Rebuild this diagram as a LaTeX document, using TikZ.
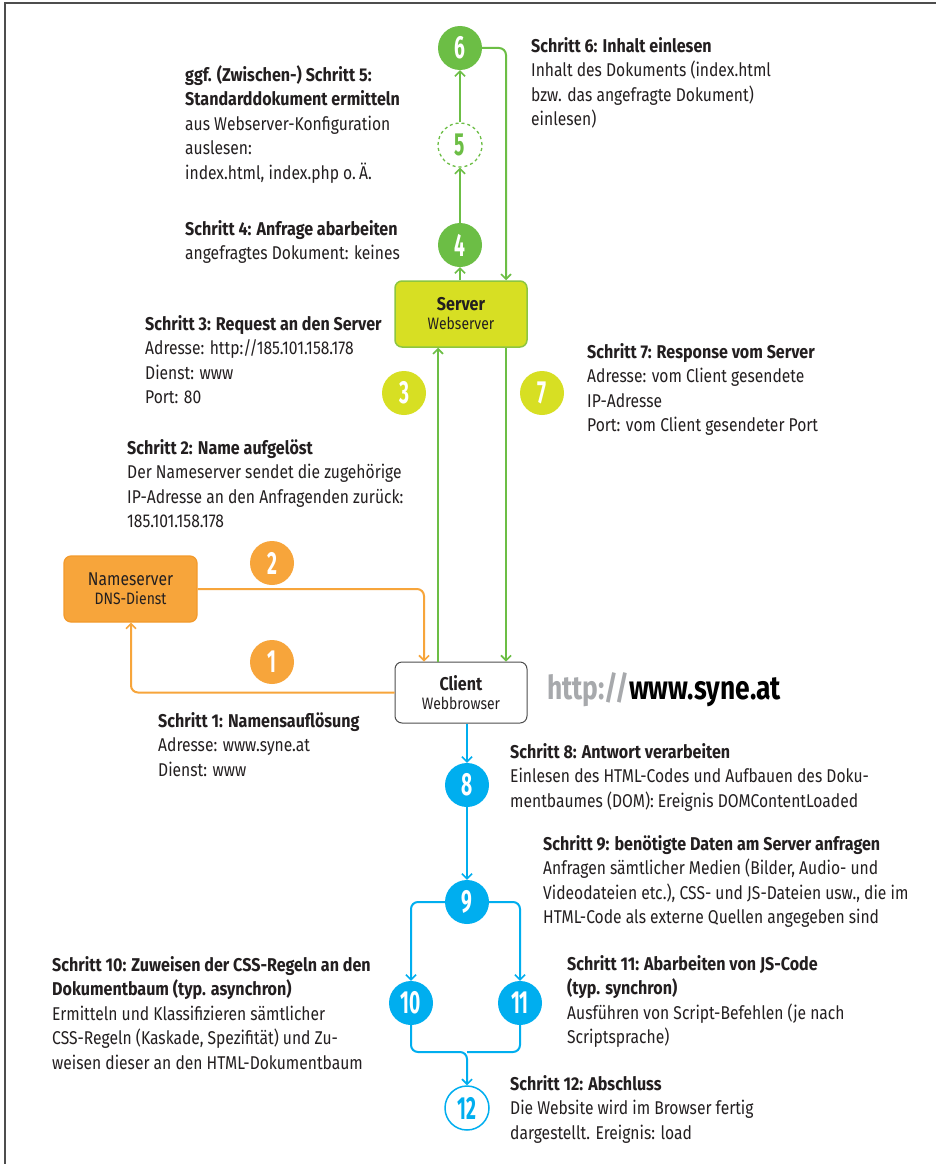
\documentclass[tikz,border=0pt]{standalone}
\usepackage{fontspec}
\setmainfont{Fira Sans}[FakeStretch=0.845, BoldFeatures={FakeStretch=0.87}]
\newfontfamily\numfont{Fira Sans}[FakeStretch=0.6]
\newfontfamily\logofont{Fira Sans}[FakeStretch=0.8]
\usetikzlibrary{arrows.meta,calc}
\definecolor{txtc}{HTML}{231F20}
\definecolor{grn}{HTML}{6CBE45}
\definecolor{ygrn}{HTML}{D7DF23}
\definecolor{srvborder}{HTML}{8DC63F}
\definecolor{org}{HTML}{F7A53B}
\definecolor{orgdark}{HTML}{F39A2B}
\definecolor{blu}{HTML}{00AEEF}
\definecolor{framec}{HTML}{4D4D4D}
\definecolor{logogrey}{HTML}{A7A9AC}
\tikzset{
  txt/.style={anchor=north west, inner sep=0pt, align=left, text=txtc,
    font=\fontsize{18.5}{24.5}\selectfont},
  num/.style={circle, minimum size=44pt, inner sep=0pt, text=white,
    font=\numfont\bfseries\fontsize{32}{32}\selectfont},
  tip/.style={-{Straight Barb[length=5pt,width=10pt,line width=1.6pt]}},
  gline/.style={draw=grn, line width=2pt},
  oline/.style={draw=org, line width=2pt},
  bline/.style={draw=blu, line width=2pt},
  boxtxt/.style={align=center, text=txtc, font=\fontsize{18.5}{22}\selectfont},
}
\begin{document}
\begin{tikzpicture}[x=1pt,y=-1pt]
\useasboundingbox (0,0) rectangle (935,1164);
\fill[white] (0,0) rectangle (935,1164);
\draw[framec, line width=2.5pt] (5,1175) -- (5,3) -- (945,3);

% boxes
\node[boxtxt, draw=srvborder, fill=ygrn, line width=1.5pt, rounded corners=7pt,
  minimum width=132pt, minimum height=66pt] (srv) at (461,314)
  {\textbf{Server}\\[-3pt]{\fontsize{16.5}{20}\selectfont Webserver}};
\node[boxtxt, draw=orgdark, fill=org, line width=1.2pt, rounded corners=7pt,
  minimum width=133pt, minimum height=66pt] (ns) at (130.5,589)
  {Nameserver\\[-3pt]{\fontsize{16.5}{20}\selectfont DNS-Dienst}};
\node[boxtxt, draw=framec, fill=white, line width=1pt, rounded corners=7pt,
  minimum width=132pt, minimum height=61pt] (cl) at (461,692.5)
  {\textbf{Client}\\[-3pt]{\fontsize{16.5}{20}\selectfont Webbrowser}};

% circles
\node[num, fill=grn] (c6) at (460,48) {6};
\node[num, draw=grn, dashed, line width=1.3pt, fill=white, text=grn] (c5) at (460,145) {5};
\node[num, fill=grn] (c4) at (460,245) {4};
\node[num, fill=ygrn] (c3) at (404,393) {3};
\node[num, fill=ygrn] (c7) at (542,393) {7};
\node[num, fill=org] (c2) at (272,563) {2};
\node[num, fill=org] (c1) at (272,662) {1};
\node[num, fill=blu] (c8) at (467,785) {8};
\node[num, fill=blu] (c9) at (467,902) {9};
\node[num, fill=blu] (c10) at (411,1003) {10};
\node[num, fill=blu] (c11) at (520,1003) {11};
\node[num, draw=blu, line width=1.5pt, fill=white, text=blu] (c12) at (467,1108) {12};

% helper coordinates
\coordinate (gx) at (506,0);
\coordinate (cx) at (438,0);
\coordinate (ox) at (424,0);
\coordinate (oa) at (131,0);
\coordinate (jn) at (467,1052);

% green connectors
\draw[gline, tip] (c4 |- srv.north) -- (c4.south);
\draw[gline, tip] (c4.north) -- (c5.south);
\draw[gline, tip] (c5.north) -- (c6.south);
\draw[gline, tip, rounded corners=7pt] (c6.east) -| (srv.north -| gx);
\draw[gline, tip] (cl.north -| cx) -- (srv.south -| cx);
\draw[gline, tip] (srv.south -| gx) -- (cl.north -| gx);

% orange connectors
\draw[oline, tip, rounded corners=7pt] (ns.east) -| (cl.north -| ox);
\draw[oline, tip, rounded corners=7pt] (cl.west) -| (ns.south -| oa);

% blue connectors
\draw[bline, tip] (cl.south -| c8) -- (c8.north);
\draw[bline, tip] (c8.south) -- (c9.north);
\draw[bline, tip, rounded corners=7pt] (c9.west) -| (c10.north);
\draw[bline, tip, rounded corners=7pt] (c9.east) -| (c11.north);
\draw[bline, tip, rounded corners=7pt] (c10.south) |- (jn) -- (c12.north);
\draw[bline, rounded corners=7pt] (c11.south) |- (jn);

% logo
\node[anchor=west, inner sep=0pt, font=\logofont\bfseries\fontsize{33}{33}\selectfont] (logo) at (547,690)
  {\textcolor{logogrey}{http://}\textcolor{black}{www.syne.at}};

% texts
\node[txt] (t6) at (531,37) {\textbf{Schritt 6: Inhalt einlesen}\\Inhalt des Dokuments (index.html\\bzw. das angefragte Dokument)\\einlesen)};
\node[txt] (t5) at (185,65) {\textbf{ggf. (Zwischen-) Schritt 5:}\\\textbf{Standarddokument ermitteln}\\aus Webserver-Konfiguration\\auslesen:\\index.html, index.php o.\,Ä.};
\node[txt] (t4) at (185,220) {\textbf{Schritt 4: Anfrage abarbeiten}\\angefragtes Dokument: keines};
\node[txt] (t3) at (145,315) {\textbf{Schritt 3: Request an den Server}\\Adresse: http://185.101.158.178\\Dienst: www\\Port: 80};
\node[txt] (t2) at (127,439) {\textbf{Schritt 2: Name aufgelöst}\\Der Nameserver sendet die zugehörige\\IP-Adresse an den Anfragenden zurück:\\185.101.158.178};
\node[txt] (t7) at (587,343) {\textbf{Schritt 7: Response vom Server}\\Adresse: vom Client gesendete\\IP-Adresse\\Port: vom Client gesendeter Port};
\node[txt] (t1) at (158,712) {\textbf{Schritt 1: Namensauflösung}\\Adresse: www.syne.at\\Dienst: www};
\node[txt] (t8) at (510,743) {\textbf{Schritt 8: Antwort verarbeiten}\\Einlesen des HTML-Codes und Aufbauen des Doku-\\mentbaumes (DOM): Ereignis DOMContentLoaded};
\node[txt] (t9) at (543,835) {\textbf{Schritt 9: benötigte Daten am Server anfragen}\\Anfragen sämtlicher Medien (Bilder, Audio- und\\Videodateien etc.), CSS- und JS-Dateien usw., die im\\HTML-Code als externe Quellen angegeben sind};
\node[txt] (t11) at (567,955) {\textbf{Schritt 11: Abarbeiten von JS-Code}\\\textbf{(typ. synchron)}\\Ausführen von Script-Befehlen (je nach\\Scriptsprache)};
\node[txt] (t10) at (52,956) {\textbf{Schritt 10: Zuweisen der CSS-Regeln an den}\\\textbf{Dokumentbaum (typ. asynchron)}\\Ermitteln und Klassifizieren sämtlicher\\CSS-Regeln (Kaskade, Spezifität) und Zu-\\weisen dieser an den HTML-Dokumentbaum};
\node[txt] (t12) at (510,1075) {\textbf{Schritt 12: Abschluss}\\Die Website wird im Browser fertig\\dargestellt. Ereignis: load};
\end{tikzpicture}
\end{document}
